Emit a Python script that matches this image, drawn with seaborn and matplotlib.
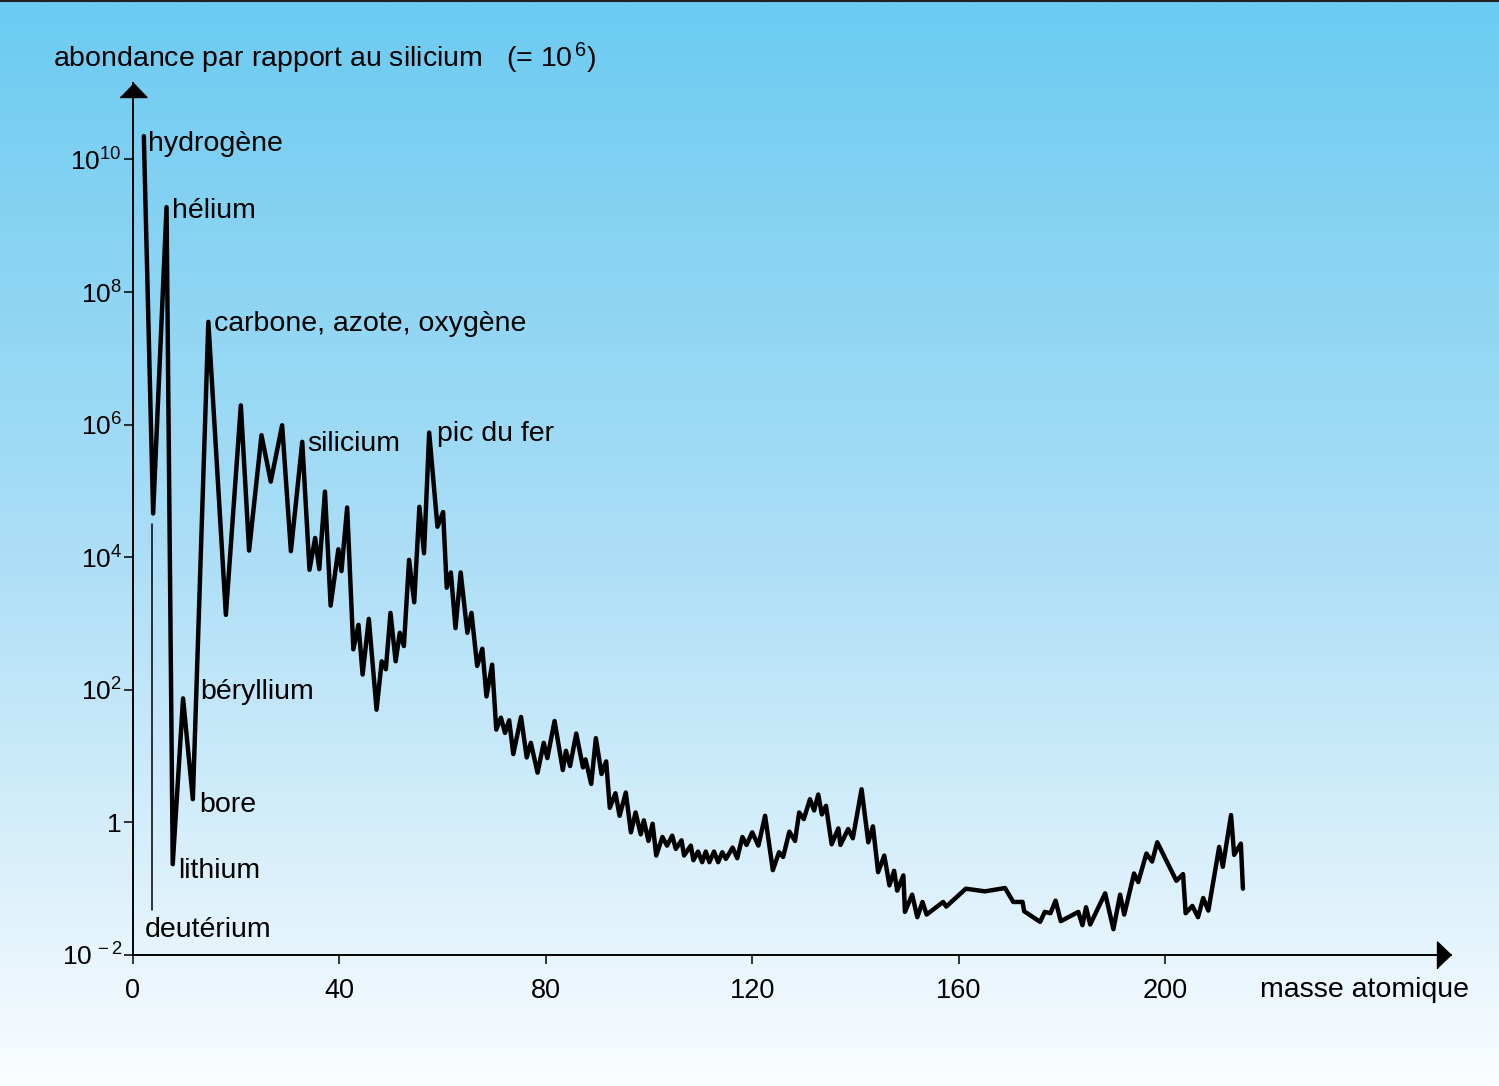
import numpy as np
import matplotlib
matplotlib.use("Agg")
import matplotlib.pyplot as plt
import seaborn as sns
import pandas as pd
from matplotlib.colors import LinearSegmentedColormap
from matplotlib.lines import Line2D
from matplotlib.ticker import NullLocator

# ---------------- data ----------------
masse = [2.1, 3.9, 6.5, 7.7, 9.7, 11.6, 14.6, 18.0, 20.9, 22.5, 24.9, 26.7, 28.9, 30.6,
         32.8, 34.2, 35.3, 36.1, 37.2, 38.3, 39.8, 40.4, 41.5, 42.7, 43.7, 44.5, 45.7,
         47.2, 48.2, 49.0, 49.9, 50.9, 51.7, 52.5, 53.5, 54.5, 55.5, 56.4, 57.4, 59.0,
         60.1, 60.8, 61.6, 62.5, 63.5, 64.8, 65.6, 66.7, 67.7, 68.5, 69.6, 70.4, 71.3,
         72.1, 72.9, 73.7, 75.2, 76.3, 77.1, 78.4, 79.6, 80.3, 81.7, 83.3, 83.9, 84.7,
         85.9, 87.2, 87.7, 88.8, 89.7, 90.8, 91.7, 92.4, 93.5, 94.3, 95.5, 96.5, 97.4,
         98.4, 99.0, 99.9, 100.7, 101.4, 102.6, 103.5, 104.5, 105.2, 106.3, 106.8, 108.1,
         108.6, 109.5, 110.3, 111.0, 111.7, 112.6, 113.4, 114.2, 114.9, 116.2, 117.1,
         118.1, 118.9, 120.0, 121.2, 122.5, 124.0, 125.2, 126.0, 127.2, 128.3, 129.1,
         130.0, 131.2, 132.0, 132.8, 133.5, 134.3, 135.4, 136.7, 137.1, 138.6, 139.5,
         141.2, 142.5, 143.4, 144.4, 145.6, 146.6, 147.5, 148.1, 149.3, 149.6, 151.0,
         152.0, 153.0, 153.8, 157.0, 157.6, 161.4, 165.1, 169.0, 170.6, 172.4, 172.7,
         175.8, 176.7, 177.8, 178.8, 179.8, 183.2, 184.0, 184.7, 185.5, 188.4, 190.0,
         191.3, 192.1, 194.0, 194.8, 196.4, 197.5, 198.5, 202.2, 203.5, 204.0, 205.3,
         206.4, 207.4, 208.4, 210.5, 211.2, 212.8, 213.4, 214.7, 215.1]

log_abondance = [10.35, 4.66, 9.28, -0.63, 1.87, 0.35, 7.55, 3.13, 6.29, 4.10, 5.84, 5.14,
                 5.99, 4.09, 5.74, 3.81, 4.29, 3.82, 4.99, 3.27, 4.12, 3.79, 4.75, 2.61,
                 2.98, 2.23, 3.07, 1.70, 2.43, 2.31, 3.16, 2.43, 2.86, 2.66, 3.96, 3.32,
                 4.76, 4.06, 5.88, 4.46, 4.68, 3.54, 3.77, 2.93, 3.77, 2.86, 3.16, 2.36,
                 2.62, 1.90, 2.38, 1.40, 1.58, 1.35, 1.54, 1.03, 1.59, 0.98, 1.20, 0.75,
                 1.20, 0.97, 1.53, 0.79, 1.08, 0.85, 1.34, 0.83, 0.95, 0.58, 1.27, 0.73,
                 0.92, 0.22, 0.44, 0.10, 0.45, -0.15, 0.15, -0.18, 0.03, -0.28, -0.02,
                 -0.50, -0.22, -0.35, -0.20, -0.40, -0.27, -0.50, -0.35, -0.57, -0.44,
                 -0.60, -0.44, -0.60, -0.44, -0.60, -0.45, -0.55, -0.38, -0.54, -0.22,
                 -0.34, -0.15, -0.35, 0.10, -0.72, -0.45, -0.52, -0.14, -0.28, 0.15, 0.05,
                 0.35, 0.18, 0.42, 0.12, 0.25, -0.33, -0.09, -0.34, -0.10, -0.24, 0.50,
                 -0.30, -0.06, -0.75, -0.50, -0.95, -0.73, -1.03, -0.80, -1.35, -1.09,
                 -1.43, -1.20, -1.39, -1.20, -1.27, -1.00, -1.04, -0.99, -1.20, -1.20,
                 -1.34, -1.50, -1.35, -1.37, -1.18, -1.49, -1.35, -1.55, -1.28, -1.54,
                 -1.07, -1.61, -1.09, -1.39, -0.77, -0.90, -0.47, -0.59, -0.30, -0.88,
                 -0.78, -1.37, -1.26, -1.43, -1.14, -1.33, -0.37, -0.67, 0.11, -0.49,
                 -0.32, -1.00]

x_ticks = [0, 40, 80, 120, 160, 200]
y_exposants = [-2, 0, 2, 4, 6, 8, 10]
y_tick_labels = [r"$\mathregular{10^{\,-2}}$", "1", r"$\mathregular{10^{2}}$",
                 r"$\mathregular{10^{4}}$", r"$\mathregular{10^{6}}$",
                 r"$\mathregular{10^{8}}$", r"$\mathregular{10^{10}}$"]

noms = ["hydrogène", "hélium", "carbone, azote, oxygène", "silicium", "pic du fer",
        "béryllium", "bore", "lithium", "deutérium"]
noms_x = [2.9, 7.6, 15.7, 33.7, 58.9, 13.0, 12.8, 8.7, 2.3]
noms_log = [10.23, 9.22, 7.52, 5.71, 5.86, 1.96, 0.26, -0.74, -1.62]

deut_x = [3.6, 3.6]
deut_log = [4.50, -1.32]

# ---------------- figure ----------------
W, H = 1499, 1086
sns.set_style("ticks")
plt.rcParams['font.family'] = ['Liberation Sans', 'DejaVu Sans']
plt.rcParams['mathtext.fontset'] = 'custom'
plt.rcParams['mathtext.rm'] = 'Liberation Sans'
plt.rcParams['mathtext.it'] = 'Liberation Sans:italic'
plt.rcParams['mathtext.bf'] = 'Liberation Sans:bold'

fig = plt.figure(figsize=(W / 100, H / 100), dpi=100)

# background gradient
bg = fig.add_axes([0, 0, 1, 1], zorder=-10)
cmap = LinearSegmentedColormap.from_list(
    'bg', [(0.0, '#6ccbf1'), (0.5, '#abdef6'), (0.85, '#e2f3fc'), (1.0, '#fbfdff')])
grad = np.linspace(0, 1, 512)[:, None]
bg.imshow(grad, aspect='auto', cmap=cmap, extent=[0, 1, 0, 1], origin='upper')
bg.set_axis_off()

# main axes (pixel geometry)
px0, px1 = 133, 1451
py0, py1 = 955, 83
xscale = 5.16
dec = 66.3
ax = fig.add_axes([px0 / W, 1 - py0 / H, (px1 - px0) / W, (py0 - py1) / H])
ax.set_facecolor('none')

df = pd.DataFrame({'masse': masse,
                   'abondance': [10.0 ** v for v in log_abondance]})
sns.lineplot(data=df, x='masse', y='abondance', sort=False, estimator=None,
             color='black', lw=3.2, ax=ax)
ax.plot(deut_x, [10.0 ** v for v in deut_log], color='black', lw=1.1)

ax.set_yscale('log')
ax.set_xlim(0, (px1 - px0) / xscale)
ax.set_ylim(1e-2, 10 ** (-2 + (py0 - py1) / dec))
ax.set_xticks(x_ticks)
ax.set_xticklabels([str(t) for t in x_ticks])
ax.set_yticks([10.0 ** e for e in y_exposants])
ax.set_yticklabels(y_tick_labels)
ax.yaxis.set_minor_locator(NullLocator())
ax.set_xlabel('')
ax.set_ylabel('')

for s in ['top', 'right']:
    ax.spines[s].set_visible(False)
for s in ['left', 'bottom']:
    ax.spines[s].set_linewidth(1.4)
    ax.spines[s].set_color('black')

ax.tick_params(axis='both', direction='out', length=6.5, width=1.1, colors='black')
ax.tick_params(axis='x', labelsize=19.5, pad=10)
ax.tick_params(axis='y', labelsize=19, pad=1.5)

# arrow heads
up = [(-13.5, -7), (13.5, -7), (0, 7)]
right = [(-7, -13.5), (-7, 13.5), (7, 0)]
ax.plot([0], [(py0 - 90) / (py0 - py1)], transform=ax.transAxes, marker=up,
        ms=19.4, color='black', clip_on=False, lw=0)
ax.plot([(1444 - px0) / (px1 - px0)], [0], transform=ax.transAxes, marker=right,
        ms=19.4, color='black', clip_on=False, lw=0)

# labels
for n, x, ly in zip(noms, noms_x, noms_log):
    ax.text(x, 10.0 ** ly, n, fontsize=20.5, ha='left', va='center', color='black')

fig.text(53 / W, 1 - 58 / H,
         "abondance par rapport au silicium   (= " + r"$\mathregular{10^{\,6}}$" + ")",
         fontsize=20.5, ha='left', va='center', color='black')
fig.text(1260 / W, 1 - 990 / H, "masse atomique", fontsize=20.5,
         ha='left', va='center', color='black')

fig.add_artist(Line2D([0, 1], [1 - 1 / H, 1 - 1 / H], color='#222222', lw=1.5,
                      transform=fig.transFigure))

fig.savefig('out.png', dpi=100)
